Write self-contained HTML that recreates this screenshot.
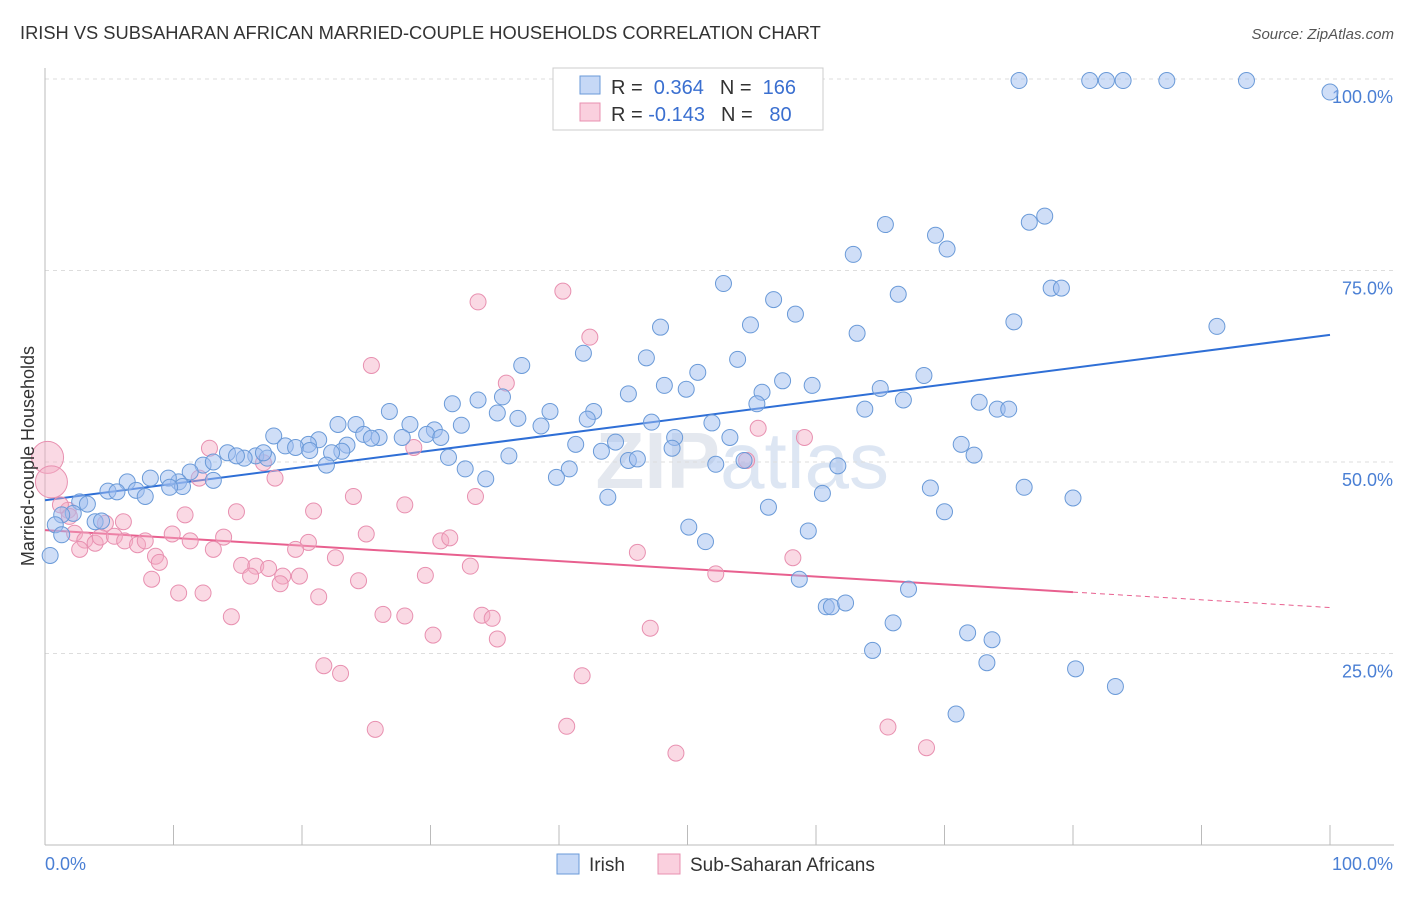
<!DOCTYPE html>
<html><head><meta charset="utf-8"><style>
body{margin:0;background:#fff;font-family:"Liberation Sans",sans-serif;}
svg text{font-family:"Liberation Sans",sans-serif;}
</style></head><body>
<svg id="c" width="1406" height="892" xmlns="http://www.w3.org/2000/svg">
<text x="20" y="39" font-size="18.3" fill="#333">IRISH VS SUBSAHARAN AFRICAN MARRIED-COUPLE HOUSEHOLDS CORRELATION CHART</text>
<text x="1394" y="39" font-size="15" fill="#555" font-style="italic" text-anchor="end">Source: ZipAtlas.com</text>
<text x="720" y="488" font-size="80" font-weight="bold" fill="#e4e8ef" text-anchor="end">ZIP</text>
<text x="720" y="488" font-size="80" fill="#dde6f3">atlas</text>
<g id="grid"></g><g id="axes"></g><g id="lines"></g><g id="pts"></g>
<text transform="translate(34,456) rotate(-90)" font-size="18" fill="#333" text-anchor="middle">Married-couple Households</text>
<g>
<rect x="553" y="68" width="270" height="62" fill="#fff" stroke="#ccc"/>
<rect x="580" y="76" width="20" height="18" fill="rgba(160,190,240,0.6)" stroke="#6a9ad8"/>
<rect x="580" y="103" width="20" height="18" fill="rgba(245,170,195,0.55)" stroke="#e890b0"/>
<text x="611" y="94" font-size="20" fill="#333">R = <tspan fill="#3a6fd0">&#160;0.364</tspan><tspan dx="16">N = </tspan><tspan fill="#3a6fd0">&#160;166</tspan></text>
<text x="611" y="121" font-size="20" fill="#333">R = <tspan fill="#3a6fd0">-0.143</tspan><tspan dx="16">N = </tspan><tspan fill="#3a6fd0">&#160;&#160;80</tspan></text>
</g>
<g>
<rect x="557" y="854" width="22" height="20" fill="rgba(160,190,240,0.6)" stroke="#6a9ad8"/>
<text x="589" y="871" font-size="19" fill="#333">Irish</text>
<rect x="658" y="854" width="22" height="20" fill="rgba(245,170,195,0.55)" stroke="#e890b0"/>
<text x="690" y="871" font-size="19" fill="#333">Sub-Saharan Africans</text>
</g>
</svg>
<script>
const yTicks=[25,50,75,100];
const yTickLabels=["25.0%","50.0%","75.0%","100.0%"];
const xTickCount=10;
const blueX=[75.8,81.3,82.6,83.9,87.3,93.5,100,65.4,69.3,70.2,62.9,76.6,77.8,52.8,56.7,66.4,58.4,78.3,79.1,75.4,91.2,47.9,54.9,63.2,41.9,46.8,53.9,37.1,50.8,68.4,48.2,49.9,57.4,59.7,65.0,55.8,45.4,66.8,72.7,55.4,33.7,31.7,35.6,26.8,35.2,36.8,74.1,75.0,63.8,39.3,42.7,42.2,38.6,47.2,51.9,22.8,24.2,28.4,32.4,30.3,24.8,26.0,27.8,29.7,30.8,17.8,21.3,23.5,25.4,20.5,18.7,19.5,41.3,44.4,49.0,53.3,48.8,43.3,71.3,72.3,31.4,36.1,23.1,22.3,20.6,14.2,16.4,17.3,15.5,14.9,17.0,45.4,46.1,21.9,32.7,34.3,40.8,52.2,54.4,61.7,39.8,12.3,13.1,11.3,10.4,8.2,9.6,6.4,7.1,4.9,5.6,13.1,10.7,9.7,7.8,2.7,3.3,2.2,1.3,0.8,3.9,4.4,0.4,1.3,43.8,60.5,68.9,76.2,80.0,56.3,70.0,50.1,51.4,59.4,58.7,67.2,60.8,61.2,62.3,66.0,71.8,73.7,64.4,73.3,80.2,83.3,70.9];
const blueY=[99.8,99.8,99.8,99.8,99.8,99.8,98.3,81.0,79.6,77.8,77.1,81.3,82.1,73.3,71.2,71.9,69.3,72.7,72.7,68.3,67.7,67.6,67.9,66.8,64.2,63.6,63.4,62.6,61.7,61.3,60.0,59.5,60.6,60.0,59.6,59.1,58.9,58.1,57.8,57.6,58.1,57.6,58.5,56.6,56.4,55.7,56.9,56.9,56.9,56.6,56.6,55.6,54.7,55.2,55.1,54.9,54.9,54.9,54.8,54.2,53.6,53.2,53.2,53.6,53.2,53.4,52.9,52.2,53.1,52.3,52.1,51.9,52.3,52.6,53.2,53.2,51.8,51.4,52.3,50.9,50.6,50.8,51.4,51.2,51.5,51.2,50.8,50.5,50.5,50.8,51.2,50.2,50.4,49.6,49.1,47.8,49.1,49.7,50.2,49.5,48.0,49.6,50.0,48.7,47.4,47.9,47.9,47.4,46.3,46.2,46.1,47.6,46.8,46.7,45.5,44.8,44.5,43.3,43.1,41.8,42.2,42.3,37.8,40.5,45.4,45.9,46.6,46.7,45.3,44.1,43.5,41.5,39.6,41.0,34.7,33.4,31.1,31.1,31.6,29.0,27.7,26.8,25.4,23.8,23.0,20.7,17.1];
const pinkX=[33.7,40.3,42.4,25.4,35.9,59.1,55.5,28.7,12.8,54.6,17.0,17.9,12.0,24.0,33.5,28.0,20.9,14.9,10.9,1.8,1.2,4.7,6.1,1.9,2.3,3.1,3.9,4.3,5.4,6.2,7.2,7.8,2.7,9.9,11.3,13.9,20.5,25.0,30.8,31.5,46.1,58.2,8.6,8.9,13.1,15.3,16.4,19.5,17.4,22.6,33.1,16.0,18.5,19.8,29.6,52.2,8.3,24.4,18.3,10.4,12.3,21.3,14.5,26.3,28.0,34.0,34.8,47.1,30.2,35.2,21.7,23.0,41.8,25.7,40.6,49.1,65.6,68.6];
const pinkY=[70.9,72.3,66.3,62.6,60.3,53.2,54.4,51.9,51.8,50.2,49.9,47.9,47.9,45.5,45.5,44.4,43.6,43.5,43.1,43.7,44.4,42.0,42.2,42.9,40.7,39.8,39.4,40.2,40.3,39.7,39.2,39.7,38.6,40.6,39.7,40.2,39.5,40.6,39.7,40.1,38.2,37.5,37.7,36.9,38.6,36.5,36.4,38.6,36.1,37.5,36.4,35.1,35.1,35.1,35.2,35.4,34.7,34.5,34.1,32.9,32.9,32.4,29.8,30.1,29.9,30.0,29.6,28.3,27.4,26.9,23.4,22.4,22.1,15.1,15.5,12.0,15.4,12.7];
const bigPinkX=[0.2,0.5];
const bigPinkY=[50.6,47.4];
const blueTrendY=[45.0,66.6];
const pinkTrendY=[41.1,31.0];
const pinkSolidEnd=80;

const NS="http://www.w3.org/2000/svg";
const X=v=>45+v*12.85, Y=v=>845-v*7.66;
function mk(tag,attrs,parent){const e=document.createElementNS(NS,tag);for(const k in attrs)e.setAttribute(k,attrs[k]);document.getElementById(parent).appendChild(e);return e;}
yTicks.forEach((t,i)=>{
 const l=mk('line',{x1:45,x2:1394,y1:Y(t),y2:Y(t),stroke:'#ddd','stroke-dasharray':'4,4'},'grid');
 
 
 const tx=mk('text',{x:1393,y:Y(t)+24,'font-size':18,fill:'#4a7fd4','text-anchor':'end'},'grid');
 tx.textContent=yTickLabels[i];
 
 
});
const ax=mk('line',{x1:45,x2:45,y1:68,y2:845,stroke:'#bbb'},'axes');


const bx=mk('line',{x1:45,x2:1394,y1:845,y2:845,stroke:'#bbb'},'axes');


for(let i=0;i<=xTickCount;i++){
 const t=mk('line',{x1:X(i*10),x2:X(i*10),y1:825,y2:845,stroke:'#bbb'},'axes');
 
 
}
const x0=mk('text',{x:45,y:870,'font-size':18,fill:'#4a7fd4'},'axes');x0.textContent='0.0%';


const x1=mk('text',{x:1393,y:870,'font-size':18,fill:'#4a7fd4','text-anchor':'end'},'axes');x1.textContent='100.0%';



pinkX.forEach((v,i)=>{const c=mk('circle',{cx:X(v),cy:Y(pinkY[i]),r:8,fill:'rgba(245,170,195,0.45)',stroke:'#e890b0','stroke-width':1},'pts');
 
 });
bigPinkX.forEach((v,i)=>{const c=mk('circle',{cx:X(v),cy:Y(bigPinkY[i]),r:16,fill:'rgba(245,170,195,0.45)',stroke:'#e890b0','stroke-width':1},'pts');
 
 });
blueX.forEach((v,i)=>{const c=mk('circle',{cx:X(v),cy:Y(blueY[i]),r:8,fill:'rgba(160,190,240,0.5)',stroke:'#6a9ad8','stroke-width':1},'pts');
 
 });
const bl=mk('line',{x1:X(0),y1:Y(blueTrendY[0]),x2:X(100),y2:Y(blueTrendY[1]),stroke:'#2f6fd6','stroke-width':2},'lines');


const pm=pinkTrendY[0]+(pinkTrendY[1]-pinkTrendY[0])*pinkSolidEnd/100;
const pl=mk('line',{x1:X(0),y1:Y(pinkTrendY[0]),x2:X(pinkSolidEnd),y2:Y(pm),stroke:'#e8608f','stroke-width':2},'lines');


const pd=mk('line',{x1:X(pinkSolidEnd),y1:Y(pm),x2:X(100),y2:Y(pinkTrendY[1]),stroke:'#e8608f','stroke-width':1,'stroke-dasharray':'5,4'},'lines');


</script>
</body></html>
